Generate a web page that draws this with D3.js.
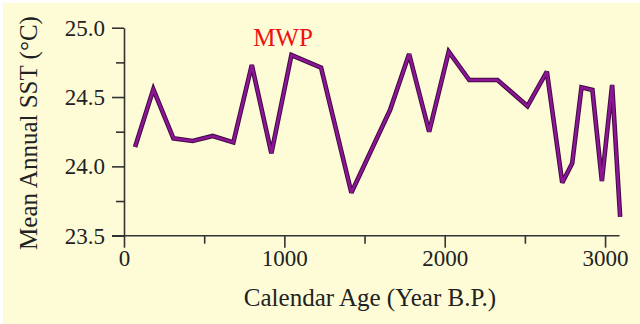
<!DOCTYPE html>
<html><head><meta charset="utf-8">
<script src="https://cdn.jsdelivr.net/npm/d3@7"></script>
<style>html,body{margin:0;padding:0;background:#fff;}svg{display:block;}</style>
</head><body>
<svg id="c" width="640" height="324"></svg>
<script>
const years = [69, 183, 308, 428, 553, 682, 797, 919, 1044, 1229, 1418, 1659, 1778, 1903, 2025, 2153, 2329, 2516, 2637, 2733, 2795, 2853, 2921, 2980, 3044, 3094];
const sst   = [24.14, 24.556, 24.202, 24.183, 24.219, 24.173, 24.731, 24.094, 24.803, 24.712, 23.81, 24.406, 24.81, 24.25, 24.827, 24.623, 24.623, 24.435, 24.683, 23.882, 24.022, 24.57, 24.551, 23.894, 24.587, 23.635];
const xTicks = [0, 1000, 2000, 3000];
const xMinor = [500, 1500, 2500];
const yTicks = [23.5, 24.0, 24.5, 25.0];
const yMinor = [23.75, 24.25, 24.75];
const xTitle = "Calendar Age (Year B.P.)";
const yTitle = "Mean Annual SST (°C)";
const note = "MWP";

const svg = d3.select("#c");
const font = "'Liberation Serif', 'Times New Roman', serif";
svg.append("rect").attr("x",3).attr("y",3).attr("width",637).attr("height",321).attr("fill","#fefcd6");

const x = d3.scaleLinear().domain([0, 3090]).range([124, 619.5]);
const y = d3.scaleLinear().domain([23.5, 25.0]).range([235.7, 27.7]);

const axCol = "#333";
// x axis
const gx = svg.append("g").attr("transform",`translate(0,${y(23.5)})`);
gx.call(d3.axisBottom(x).tickValues(xTicks).tickSize(12).tickSizeOuter(0).tickFormat(d3.format("d")));
gx.append("g").call(d3.axisBottom(x).tickValues(xMinor).tickSize(8).tickFormat("")).select(".domain").remove();
gx.selectAll("line").attr("stroke",axCol).attr("stroke-width",1.6);
gx.select(".domain").attr("stroke",axCol).attr("stroke-width",1.6).attr("d",`M${x(0)-12},0H${x(3090)}`);
gx.selectAll("text").attr("font-family",font).attr("font-size",23).attr("fill","#222").attr("y",14).attr("dy","0.71em");

// y axis
const gy = svg.append("g").attr("transform",`translate(${x(0)},0)`);
gy.call(d3.axisLeft(y).tickValues(yTicks).tickSize(12).tickSizeOuter(0).tickFormat(d3.format(".1f")));
gy.append("g").call(d3.axisLeft(y).tickValues(yMinor).tickSize(8).tickFormat("")).select(".domain").remove();
gy.selectAll("line").attr("stroke",axCol).attr("stroke-width",1.6);
gy.select(".domain").attr("stroke",axCol).attr("stroke-width",1.6);
gy.selectAll("text").attr("font-family",font).attr("font-size",23).attr("fill","#222").attr("x",-19);

// titles
svg.append("text").attr("x",370).attr("y",306).attr("text-anchor","middle")
  .attr("font-family",font).attr("font-size",25).attr("fill","#222").text(xTitle);
svg.append("text").attr("transform",`translate(37,133) rotate(-90)`).attr("text-anchor","middle")
  .attr("font-family",font).attr("font-size",25).attr("fill","#222").text(yTitle);
svg.append("text").attr("x",283).attr("y",46).attr("text-anchor","middle")
  .attr("font-family",font).attr("font-size",25).attr("fill","#ee1111").text(note);

// line
const data = years.map((d,i)=>({x:d,y:sst[i]}));
const line = d3.line().x(d=>x(d.x)).y(d=>y(d.y));
svg.append("path").datum(data).attr("d",line).attr("fill","none")
  .attr("stroke","#3e0c40").attr("stroke-width",4.6).attr("stroke-linejoin","miter").attr("stroke-miterlimit",3);
svg.append("path").datum(data).attr("d",line).attr("fill","none")
  .attr("stroke","#8e1598").attr("stroke-width",2.6).attr("stroke-linejoin","miter").attr("stroke-miterlimit",3);
</script>
</body></html>
